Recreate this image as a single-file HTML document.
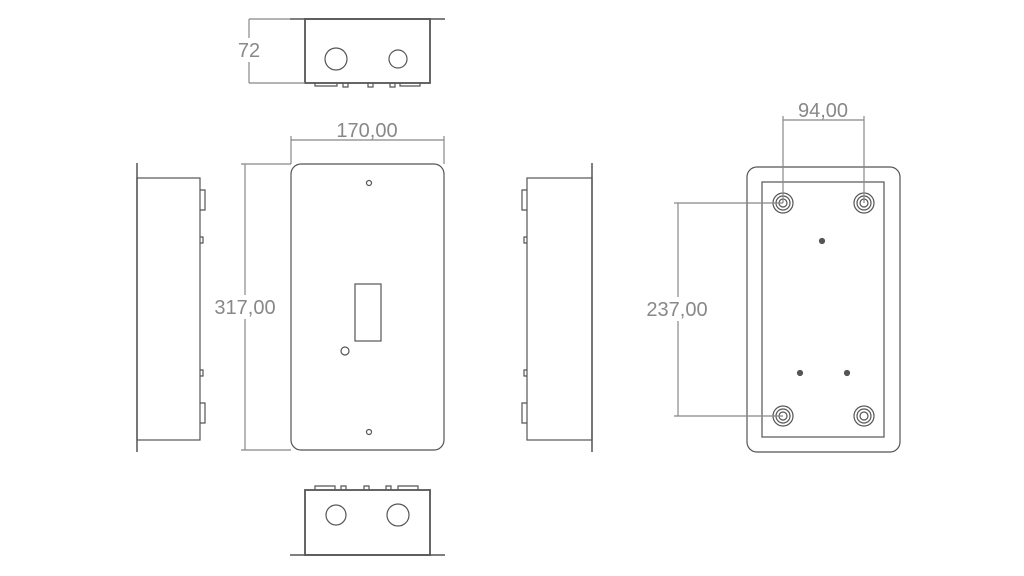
<!DOCTYPE html>
<html><head><style>body{margin:0;background:#fff}svg{display:block}</style></head><body>
<svg width="1024" height="576" viewBox="0 0 1024 576" xmlns="http://www.w3.org/2000/svg" fill="none" stroke="#555" stroke-width="1.2">
<!-- top view -->
<line x1="290" y1="19" x2="445" y2="19" stroke-width="1.5"/>
<rect x="305" y="19" width="125" height="64" stroke-width="1.8"/>
<circle cx="336" cy="59" r="11"/><circle cx="398" cy="59" r="9"/>
<path d="M315 83 v3 h22 v-3 M343 83 v4 h5 v-4 M368 83 v4 h5 v-4 M390 83 v4 h5 v-4 M400 83 v3 h20 v-3"/>
<line x1="249" y1="19" x2="249" y2="83" stroke="#888"/>
<line x1="249" y1="19" x2="290" y2="19" stroke="#888"/>
<line x1="249" y1="83" x2="305" y2="83" stroke="#888"/>
<!-- front -->
<rect x="291" y="164" width="153" height="286" rx="10"/>
<circle cx="369" cy="183" r="2.5"/><circle cx="369" cy="432" r="2.5"/>
<rect x="355" y="284" width="26" height="57"/>
<circle cx="345" cy="351" r="4"/>
<line x1="291" y1="140" x2="444" y2="140" stroke="#888"/>
<line x1="291" y1="136" x2="291" y2="164" stroke="#888"/>
<line x1="444" y1="136" x2="444" y2="164" stroke="#888"/>
<line x1="245" y1="164" x2="245" y2="450" stroke="#888"/>
<line x1="241" y1="164" x2="291" y2="164" stroke="#888"/>
<line x1="241" y1="450" x2="291" y2="450" stroke="#888"/>
<!-- left side -->
<line x1="137" y1="163" x2="137" y2="452" stroke-width="1.5"/>
<rect x="137" y="178" width="63" height="262"/>
<path d="M200 190 h5 v20 h-5 M200 237 h3 v6 h-3 M200 370 h3 v6 h-3 M200 403 h5 v20 h-5"/>
<!-- right side -->
<line x1="592" y1="163" x2="592" y2="452" stroke-width="1.5"/>
<rect x="527" y="178" width="65" height="262"/>
<path d="M527 190 h-5 v20 h5 M527 237 h-3 v6 h3 M527 370 h-3 v6 h3 M527 403 h-5 v20 h5"/>
<!-- bottom view -->
<line x1="290" y1="555" x2="445" y2="555" stroke-width="1.5"/>
<rect x="305" y="490" width="125" height="65" stroke-width="1.8"/>
<circle cx="336" cy="515" r="10"/><circle cx="398" cy="515" r="11"/>
<path d="M315 490 v-4 h20 v4 M341 490 v-4 h5 v4 M364 490 v-4 h5 v4 M386 490 v-4 h5 v4 M398 490 v-4 h20 v4"/>
<!-- back -->
<rect x="747" y="167" width="153" height="285" rx="10"/>
<rect x="762" y="182" width="122" height="255"/>
<g>
<circle cx="783" cy="203" r="10"/><circle cx="783" cy="203" r="7"/><circle cx="783" cy="203" r="4"/>
<circle cx="864" cy="203" r="10"/><circle cx="864" cy="203" r="7"/><circle cx="864" cy="203" r="4"/>
<circle cx="783" cy="416" r="10"/><circle cx="783" cy="416" r="7"/><circle cx="783" cy="416" r="4"/>
<circle cx="864" cy="416" r="10"/><circle cx="864" cy="416" r="7"/><circle cx="864" cy="416" r="4"/>
</g>
<circle cx="822" cy="241" r="2.5" fill="#555"/><circle cx="800" cy="373" r="2.5" fill="#555"/><circle cx="847" cy="373" r="2.5" fill="#555"/>
<line x1="783" y1="120" x2="864" y2="120" stroke="#888"/>
<line x1="783" y1="116" x2="783" y2="203" stroke="#888"/>
<line x1="864" y1="116" x2="864" y2="203" stroke="#888"/>
<line x1="678" y1="203" x2="678" y2="416" stroke="#888"/>
<line x1="674" y1="203" x2="783" y2="203" stroke="#888"/>
<line x1="674" y1="416" x2="783" y2="416" stroke="#888"/>
<g font-family="Liberation Sans, sans-serif" font-size="20" fill="#888" stroke="none" text-anchor="middle">
<rect x="232" y="38" width="34" height="24" fill="#fff"/>
<text x="249" y="57">72</text>
<text x="367" y="137">170,00</text>
<rect x="209" y="295" width="72" height="24" fill="#fff"/>
<text x="245" y="314">317,00</text>
<text x="823" y="117">94,00</text>
<rect x="639" y="297" width="76" height="24" fill="#fff"/>
<text x="677" y="316">237,00</text>
</g>
</svg>
</body></html>
